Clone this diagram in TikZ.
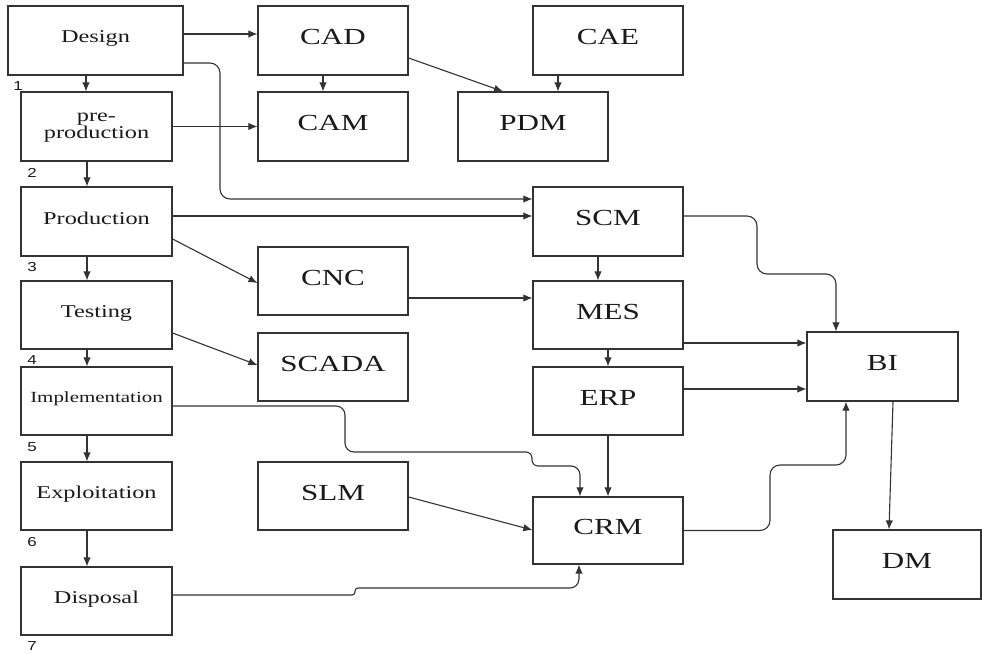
\documentclass[tikz,border=0pt]{standalone}
\usepackage{fontspec}
\setmainfont{Liberation Serif}
\newfontfamily\numfont{Liberation Sans}
\usetikzlibrary{arrows.meta,calc}
\definecolor{linec}{HTML}{333333}
\definecolor{txtc}{HTML}{1A1A1A}
\newcommand{\bxt}[2][18]{\raisebox{7pt}{\fontsize{#1}{#1}\selectfont\scalebox{1.35}[1]{#2}}}
\begin{document}
\begin{tikzpicture}[x=1pt,y=-1pt,
  box/.style={draw=linec, line width=1.2pt, inner sep=0pt, text=txtc, minimum width=150pt, minimum height=69pt},
  arr/.style={draw=linec, line width=1.1pt, -{Latex[length=9pt,width=7.5pt]}},
  num/.style={inner sep=0pt, text=txtc, font=\numfont\fontsize{13}{13}\selectfont}]
\useasboundingbox[fill=white] (0,0) rectangle (982,653);
% left column
\node[box, minimum width=175pt] (design) at (95.5,40.5) {\bxt{Design}};
\node[box, minimum width=151pt] (pre) at (96.5,126.5) {\raisebox{6pt}{\fontsize{18}{16.5}\selectfont\scalebox{1.35}[1]{\begin{tabular}{@{}c@{}}pre-\\production\end{tabular}}}};
\node[box, minimum width=151pt] (prod) at (96.5,221.5) {\bxt{Production}};
\node[box, minimum width=151pt, minimum height=68pt] (test) at (96.5,315) {\bxt{Testing}};
\node[box, minimum width=151pt, minimum height=68pt] (impl) at (96.5,401) {\bxt[15.5]{Implementation}};
\node[box, minimum width=151pt, minimum height=68pt] (expl) at (96.5,496) {\bxt{Exploitation}};
\node[box, minimum width=151pt, minimum height=68pt] (disp) at (96.5,601) {\bxt{Disposal}};
% numbers
\node[num] (n1) at (18,86) {\scalebox{1.3}[1]{1}};
\node[num] (n2) at (32,173) {\scalebox{1.3}[1]{2}};
\node[num] (n3) at (32,267) {\scalebox{1.3}[1]{3}};
\node[num] (n4) at (32,360) {\scalebox{1.3}[1]{4}};
\node[num] (n5) at (32,447) {\scalebox{1.3}[1]{5}};
\node[num] (n6) at (32,542) {\scalebox{1.3}[1]{6}};
\node[num] (n7) at (32,646) {\scalebox{1.3}[1]{7}};
% middle column
\node[box] (cad) at (333,40.5) {\bxt[23]{CAD}};
\node[box] (cam) at (333,126.5) {\bxt[23]{CAM}};
\node[box, minimum height=68pt] (cnc) at (333,281) {\bxt[23]{CNC}};
\node[box, minimum height=68pt] (scada) at (333,367) {\bxt[23]{SCADA}};
\node[box, minimum height=68pt] (slm) at (333,496) {\bxt[23]{SLM}};
% right columns
\node[box] (cae) at (608,40.5) {\bxt[23]{CAE}};
\node[box] (pdm) at (533,126.5) {\bxt[23]{PDM}};
\node[box] (scm) at (608,221.5) {\bxt[23]{SCM}};
\node[box, minimum height=68pt] (mes) at (608,315) {\bxt[23]{MES}};
\node[box, minimum height=68pt] (erp) at (608,401) {\bxt[23]{ERP}};
\node[box, minimum height=67pt] (crm) at (608,530.5) {\bxt[23]{CRM}};
\node[box, minimum width=151pt] (bi) at (882.5,366.5) {\bxt[23]{BI}};
\node[box, minimum width=148pt] (dm) at (907,564.5) {\bxt[23]{DM}};
% vertical chain
\draw[arr] ([xshift=-9.5pt]design.south) -- ([xshift=-9.5pt]design.south |- pre.north);
\draw[arr] ([xshift=-9.5pt]pre.south) -- ([xshift=-9.5pt]pre.south |- prod.north);
\draw[arr] ([xshift=-9.5pt]prod.south) -- ([xshift=-9.5pt]prod.south |- test.north);
\draw[arr] ([xshift=-9.5pt]test.south) -- ([xshift=-9.5pt]test.south |- impl.north);
\draw[arr] ([xshift=-9.5pt]impl.south) -- ([xshift=-9.5pt]impl.south |- expl.north);
\draw[arr] ([xshift=-9.5pt]expl.south) -- ([xshift=-9.5pt]expl.south |- disp.north);
% connectors
\draw[arr] (design.east |- 0,34) -- (cad.west |- 0,34);
\draw[arr, rounded corners=10pt] (design.east |- 0,63) -- (220,63) -- (220,199) -- (scm.west |- 0,199);
\draw[arr] (pre.east) -- (cam.west);
\draw[arr] (cad.south -| 323,0) -- (cam.north -| 323,0);
\draw[arr] (cad.east |- 0,58) -- (pdm.north -| 503,0);
\draw[arr] (cae.south -| 558,0) -- (pdm.north -| 558,0);
\draw[arr] (prod.east |- 0,216) -- (scm.west |- 0,216);
\draw[arr] (prod.east |- 0,239) -- (cnc.west |- 0,283);
\draw[arr] (test.east |- 0,333) -- (scada.west |- 0,365);
\draw[arr] (cnc.east |- 0,298) -- (mes.west |- 0,298);
\draw[arr] (scm.south -| 598,0) -- (mes.north -| 598,0);
\draw[arr] (mes.south) -- (erp.north);
\draw[arr] (erp.south) -- (crm.north);
\draw[arr, rounded corners=9pt] (impl.east |- 0,406) -- (345,406) -- (345,452) [rounded corners=6pt] -- (532,452) -- (532,466) [rounded corners=9pt] -- (580,466) -- (crm.north -| 580,0);
\draw[arr] (slm.east |- 0,497) -- (crm.west |- 0,530);
\draw[arr, rounded corners=3pt] (disp.east |- 0,595) -- (355,595) -- (355,588) [rounded corners=9pt] -- (579,588) -- (crm.south -| 579,0);
\draw[arr, rounded corners=10pt] (scm.east |- 0,216) -- (757,216) -- (757,274) -- (836,274) -- (bi.north -| 836,0);
\draw[arr] (mes.east |- 0,343) -- (bi.west |- 0,343);
\draw[arr] (erp.east |- 0,389) -- (bi.west |- 0,389);
\draw[arr, rounded corners=10pt] (crm.east) -- (770,530.5) -- (770,465) -- (846,465) -- (bi.south -| 846,0);
\draw[arr] (bi.south -| 893,0) -- (dm.north -| 889,0);
\end{tikzpicture}
\end{document}
